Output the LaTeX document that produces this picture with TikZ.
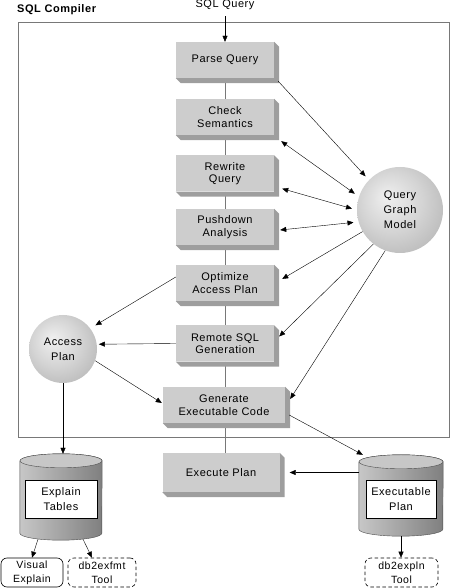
\documentclass[tikz,border=0pt]{standalone}
\usepackage{fontspec}
\setmainfont{Liberation Sans}[LetterSpace=5]
\usetikzlibrary{arrows.meta,backgrounds}
\definecolor{facegray}{RGB}{205,205,205}
\definecolor{bevelgray}{RGB}{158,158,158}
\definecolor{linegray}{RGB}{120,120,120}
\pgfdeclareradialshading{sphere}{\pgfpoint{-8bp}{8bp}}{color(0bp)=(black!6); color(18bp)=(black!17); color(36bp)=(black!30); color(50bp)=(black!40)}

% extruded edge on the right and bottom of a box
\newcommand{\bevel}[1]{%
  \fill[bevelgray] (#1.north east) -- ++(5,-5) -- ([shift={(5,-5)}]#1.south east)
    -- ([shift={(5,-5)}]#1.south west) -- (#1.south west) -- (#1.south east) -- cycle;}
% cylinder drawn inside an empty node
\newcommand{\drum}[2]{%
  \shadedraw[left color=black!22, middle color=black!13, right color=black!50, draw=black!70, line width=0.4pt]
    ([yshift=-7pt]#1.north west) -- ([yshift=7pt]#1.south west)
    arc[start angle=180, end angle=360, x radius=#2, y radius=7]
    -- ([yshift=-7pt]#1.north east)
    arc[start angle=0, end angle=180, x radius=#2, y radius=7] -- cycle;
  \filldraw[fill=black!22, draw=black!70, line width=0.4pt] ([yshift=-7pt]#1.north) ellipse[x radius=#2, y radius=7];}

\tikzset{
  stepbox/.style={fill=facegray, minimum width=98, minimum height=36, align=center, inner sep=0pt,
    font=\fontsize{11}{12.5}\selectfont},
  ball/.style={circle, shading=sphere, align=center, inner sep=0pt, font=\fontsize{11}{15}\selectfont},
  store/.style={minimum width=82, minimum height=86, inner sep=0pt},
  storetext/.style={draw, line width=0.4pt, fill=white, minimum height=38, align=center, inner sep=0pt,
    font=\fontsize{11}{15}\selectfont},
  toolbox/.style={draw, line width=0.6pt, rounded corners=6pt, minimum height=29, align=center, inner sep=0pt,
    font=\fontsize{10.5}{14}\selectfont},
  tooldash/.style={toolbox, dash pattern=on 3.5pt off 2.5pt},
  tip/.style={-{Triangle[length=6pt,width=5pt]}, line width=0.4pt},
  tiptwo/.style={{Triangle[length=6pt,width=5pt]}-{Triangle[length=6pt,width=5pt]}, line width=0.4pt},
  colline/.style={linegray, line width=1pt}
}

\begin{document}
\begin{tikzpicture}[x=1pt, y=1pt]
\useasboundingbox (0,0) rectangle (453,588);

% frame
\draw[linegray, line width=0.8pt] (18,151) rectangle (449,566);
\node[anchor=west, inner sep=0pt, font=\fontsize{11}{13}\selectfont\bfseries] (compiler) at (17,578) {SQL Compiler};
\node[inner sep=1pt, font=\fontsize{11}{13}\selectfont] (query) at (225,583) {SQL Query};

% compiler steps
\node[stepbox] (parse) at (225,528) {Parse Query};
\node[stepbox] (check) at (225,471) {Check\\Semantics};
\node[stepbox] (rewrite) at (225,414.5) {Rewrite\\Query};
\node[stepbox] (pushdown) at (225,361) {Pushdown\\Analysis};
\node[stepbox] (optimize) at (225,305) {Optimize\\Access Plan};
\node[stepbox] (remote) at (225,244.5) {Remote SQL\\Generation};
\node[stepbox, minimum width=122] (generate) at (224,183) {Generate\\Executable Code};
\node[stepbox, minimum width=117, minimum height=39] (execute) at (221,115.5) {Execute Plan};

% spheres
\node[ball, minimum size=86] (qgm) at (400,378) {Query\\Graph\\Model};
\node[ball, minimum size=68] (access) at (63,239) {Access\\Plan};

% stores
\node[store] (exptab) at (61,91) {};
\drum{exptab}{41}
\node[storetext, minimum width=72] (exptabtext) at (61,89) {Explain\\Tables};
\node[store, minimum width=84, minimum height=81] (exeplan) at (401,92.5) {};
\drum{exeplan}{42}
\node[storetext, minimum width=70] (exeplantext) at (401,89) {Executable\\Plan};

% tools
\node[toolbox, minimum width=62] (visual) at (32,15.5) {Visual\\Explain};
\node[tooldash, minimum width=68] (exfmt) at (102,15.5) {db2exfmt\\Tool};
\node[tooldash, minimum width=73] (expln) at (401.5,15.5) {db2expln\\Tool};

% column line and box edges
\begin{scope}[on background layer]
\foreach \a/\b in {parse/check, check/rewrite, rewrite/pushdown, pushdown/optimize,
  optimize/remote, remote/generate, generate/execute}
  \draw[colline] (\a.south -| parse) -- (\b.north -| parse);
\foreach \n in {parse, check, rewrite, pushdown, optimize, remote, generate, execute}
  \bevel{\n};
\end{scope}

% arrows
\draw[tip, shorten <=5pt] (query.south) -- (query.south |- parse.north);
\draw[tip, shorten >=5pt] ([shift={(4,-3)}]parse.south east) -- (qgm.136);
\draw[tiptwo, shorten >=5pt] ([shift={(7,-6)}]check.south east) -- (qgm.162);
\draw[tiptwo, shorten >=5pt] ([shift={(8,3)}]rewrite.south east) -- (qgm.180);
\draw[tiptwo, shorten >=5pt] ([shift={(6,-3)}]pushdown.east) -- (qgm.196);
\draw[tip] (qgm.210) -- ([shift={(8,4)}]optimize.east);
\draw[tip] (qgm.232) -- ([shift={(5,7)}]remote.east);
\draw[tip] (qgm.250) -- ([shift={(5,6)}]generate.east);
\draw[tip, shorten >=6pt] ([yshift=6pt]optimize.west) -- (access.37);
\draw[tip, shorten >=2pt] (remote.west) -- (access.8);
\draw[tip] (access.-20) -- ([shift={(-1,2)}]generate.west);
\draw[tip] (access.south) -- (access.south |- exptab.north);
\draw[tip] ([shift={(4,-10)}]generate.east) -- ([xshift=4pt]exeplan.north west);
\draw[tip] (exeplan.west |- execute.east) -- ([xshift=10pt]execute.east);
\draw[tip] ([shift={(-23,1)}]exptab.south) -- (visual.north);
\draw[tip] ([shift={(22,1)}]exptab.south) -- ([xshift=-10pt]exfmt.north);
\draw[tip] (exeplan.south) -- (exeplan.south |- expln.north);
\end{tikzpicture}
\end{document}
